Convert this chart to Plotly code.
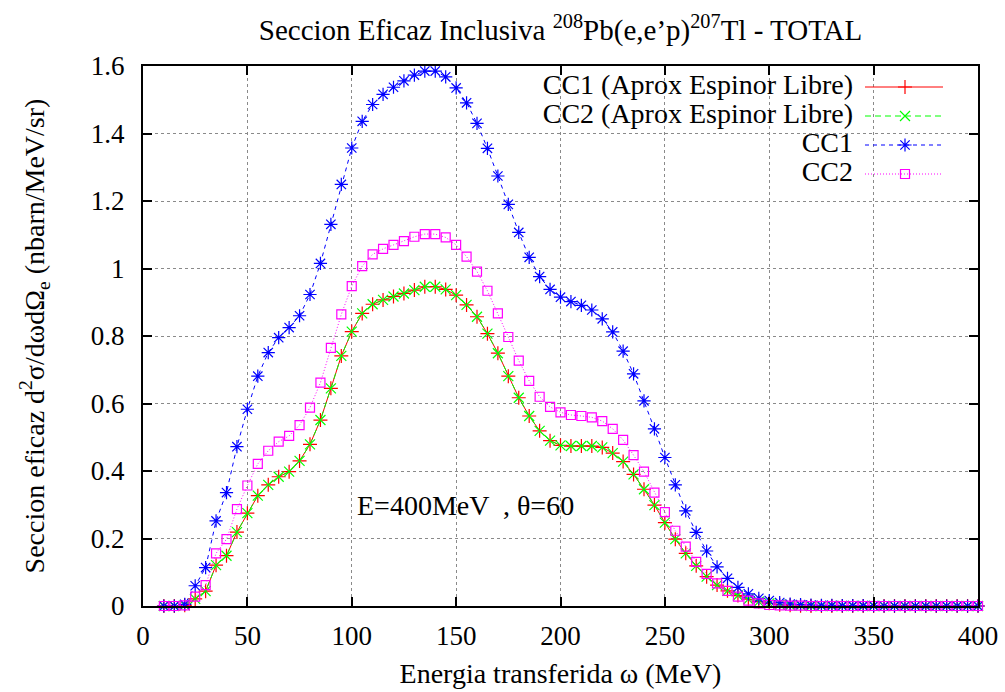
import plotly.graph_objects as go

# Energy transfer omega (MeV)
omega = [10, 15, 20, 25, 30, 35, 40, 45, 50, 55,
         60, 65, 70, 75, 80, 85, 90, 95, 100, 105,
         110, 115, 120, 125, 130, 135, 140, 145, 150, 155,
         160, 165, 170, 175, 180, 185, 190, 195, 200, 205,
         210, 215, 220, 225, 230, 235, 240, 245, 250, 255,
         260, 265, 270, 275, 280, 285, 290, 295, 300, 305,
         310, 315, 320, 325, 330, 335, 340, 345, 350, 355,
         360, 365, 370, 375, 380, 385, 390, 395, 400]

# Cross sections (nbarn/MeV/sr)
cc1_libre = [0.000, 0.000, 0.002, 0.021, 0.044, 0.121, 0.149, 0.219, 0.275, 0.327,
             0.359, 0.383, 0.398, 0.430, 0.479, 0.551, 0.645, 0.741, 0.813, 0.867,
             0.894, 0.907, 0.917, 0.926, 0.936, 0.946, 0.946, 0.938, 0.921, 0.892,
             0.857, 0.807, 0.749, 0.681, 0.617, 0.563, 0.519, 0.490, 0.476, 0.474,
             0.474, 0.474, 0.470, 0.453, 0.428, 0.390, 0.346, 0.299, 0.247, 0.198,
             0.156, 0.119, 0.087, 0.062, 0.045, 0.031, 0.020, 0.013, 0.008, 0.004,
             0.002, 0.001, 0.000, 0.000, 0.000, 0.000, 0.000, 0.000, 0.000, 0.000,
             0.000, 0.000, 0.000, 0.000, 0.000, 0.000, 0.000, 0.000, 0.000]

cc2_libre = [0.000, 0.000, 0.002, 0.021, 0.044, 0.121, 0.149, 0.219, 0.275, 0.327,
             0.359, 0.383, 0.398, 0.430, 0.479, 0.551, 0.645, 0.741, 0.813, 0.867,
             0.894, 0.907, 0.917, 0.926, 0.936, 0.946, 0.946, 0.938, 0.921, 0.892,
             0.857, 0.807, 0.749, 0.681, 0.617, 0.563, 0.519, 0.490, 0.476, 0.474,
             0.474, 0.474, 0.470, 0.453, 0.428, 0.390, 0.346, 0.299, 0.247, 0.198,
             0.156, 0.119, 0.087, 0.062, 0.045, 0.031, 0.020, 0.013, 0.008, 0.004,
             0.002, 0.001, 0.000, 0.000, 0.000, 0.000, 0.000, 0.000, 0.000, 0.000,
             0.000, 0.000, 0.000, 0.000, 0.000, 0.000, 0.000, 0.000, 0.000]

cc1 = [0.000, 0.000, 0.005, 0.060, 0.114, 0.252, 0.336, 0.472, 0.583, 0.681,
       0.751, 0.795, 0.825, 0.860, 0.923, 1.015, 1.131, 1.249, 1.357, 1.436,
       1.486, 1.516, 1.537, 1.556, 1.573, 1.585, 1.585, 1.568, 1.535, 1.491,
       1.430, 1.356, 1.274, 1.190, 1.107, 1.033, 0.976, 0.938, 0.915, 0.902,
       0.891, 0.877, 0.851, 0.812, 0.755, 0.688, 0.608, 0.525, 0.440, 0.359,
       0.282, 0.218, 0.163, 0.116, 0.082, 0.055, 0.036, 0.023, 0.016, 0.010,
       0.006, 0.004, 0.003, 0.002, 0.002, 0.001, 0.001, 0.001, 0.001, 0.000,
       0.000, 0.000, 0.000, 0.000, 0.000, 0.000, 0.000, 0.000, 0.000]

cc2 = [0.000, 0.000, 0.002, 0.028, 0.062, 0.156, 0.198, 0.287, 0.357, 0.421,
       0.460, 0.487, 0.504, 0.536, 0.588, 0.662, 0.765, 0.864, 0.948, 1.007,
       1.042, 1.058, 1.070, 1.081, 1.094, 1.102, 1.102, 1.092, 1.070, 1.035,
       0.991, 0.934, 0.867, 0.797, 0.727, 0.667, 0.620, 0.590, 0.574, 0.566,
       0.563, 0.559, 0.548, 0.525, 0.492, 0.447, 0.398, 0.336, 0.278, 0.223,
       0.176, 0.131, 0.095, 0.067, 0.045, 0.028, 0.016, 0.008, 0.003, 0.002,
       0.001, 0.001, 0.000, 0.000, 0.000, 0.000, 0.000, 0.000, 0.000, 0.000,
       0.000, 0.000, 0.000, 0.000, 0.000, 0.000, 0.000, 0.000, 0.000]

series_names = ["CC1 (Aprox Espinor Libre)", "CC2 (Aprox Espinor Libre)", "CC1", "CC2"]
x_ticks = [0, 50, 100, 150, 200, 250, 300, 350, 400]
y_ticks = [0, 0.2, 0.4, 0.6, 0.8, 1.0, 1.2, 1.4, 1.6]
y_tick_text = ["0", "0.2", "0.4", "0.6", "0.8", "1", "1.2", "1.4", "1.6"]

SERIF = "Liberation Serif"
TXT = 28

styles = [
    dict(color="#ff0000", dash="solid", symbol="cross-thin-open", size=10),
    dict(color="#00ff00", dash="6px,4px", symbol="x-thin-open", size=10),
    dict(color="#0000ff", dash="4px,4px", symbol="asterisk-open", size=11),
    dict(color="#ff00ff", dash="1px,2px", symbol="square-open", size=9),
]
data = [cc1_libre, cc2_libre, cc1, cc2]

# figure geometry (pixels)
W, H = 1005, 692
L, R, T, B = 143, 27, 66, 86
PW, PH = W - L - R, H - T - B


def marker_of(st):
    return dict(symbol=st["symbol"], size=st["size"], color=st["color"],
                line=dict(color=st["color"], width=1.2))


fig = go.Figure()
for name, ys, st in zip(series_names, data, styles):
    fig.add_trace(go.Scatter(
        x=omega, y=ys, name=name, mode="lines+markers",
        line=dict(color=st["color"], width=1, dash=st["dash"]),
        marker=marker_of(st), showlegend=False, cliponaxis=False,
    ))


# key: text right-aligned, sample line + point to its right (plot-fraction axes)
def px_x(p):
    return (p - L) / PW


def px_y(p):
    return (T + PH - p) / PH


key_rows = [87, 116, 145, 174]
key_text_right = 853
key_line = (865, 943)
key_mark = 905

fig.add_trace(go.Scatter(
    x=[px_x(key_text_right)] * len(key_rows), y=[px_y(r) for r in key_rows],
    xaxis="x2", yaxis="y2", mode="text", text=series_names,
    textposition="middle left", hoverinfo="skip", showlegend=False,
    textfont=dict(family=SERIF, size=TXT, color="black")))

for st, row in zip(styles, key_rows):
    fig.add_trace(go.Scatter(
        x=[px_x(key_line[0]), px_x(key_line[1])], y=[px_y(row), px_y(row)],
        xaxis="x2", yaxis="y2", mode="lines", hoverinfo="skip", showlegend=False,
        line=dict(color=st["color"], width=1, dash=st["dash"])))
    fig.add_trace(go.Scatter(
        x=[px_x(key_mark)], y=[px_y(row)], xaxis="x2", yaxis="y2", mode="markers",
        hoverinfo="skip", showlegend=False, marker=marker_of(st)))

# blank the grid behind the key
fig.add_shape(type="rect", xref="paper", yref="paper", layer="between",
              x0=px_x(421), x1=px_x(962), y0=px_y(187), y1=1.0,
              fillcolor="white", line=dict(width=0))

axis_common = dict(
    showline=True, linecolor="black", linewidth=2, mirror="ticks",
    ticks="inside", ticklen=9, tickwidth=1.5, tickcolor="black",
    showgrid=True, gridcolor="#8a8a8a", griddash="dot", gridwidth=1,
    zeroline=False, automargin=False,
    tickfont=dict(family=SERIF, size=27, color="black"),
)

fig.update_layout(
    width=W, height=H, margin=dict(l=L, r=R, t=T, b=B, autoexpand=False),
    paper_bgcolor="white", plot_bgcolor="white",
    font=dict(family=SERIF, size=TXT, color="black"),
    title=dict(text="Seccion Eficaz Inclusiva <sup>208</sup>Pb(e,e’p)<sup>207</sup>Tl - TOTAL",
               x=0.5, xref="paper", xanchor="center",
               y=1 - 30 / H, yref="container", yanchor="middle",
               font=dict(family=SERIF, size=29, color="black")),
    xaxis=dict(range=[0, 400], tickvals=x_ticks, ticklabelstandoff=5,
               title=dict(text="Energia transferida ω (MeV)", standoff=13,
                          font=dict(family=SERIF, size=TXT, color="black")),
               **axis_common),
    yaxis=dict(range=[0, 1.6], tickvals=y_ticks, ticktext=y_tick_text,
               ticklabelstandoff=11,
               title=dict(text="Seccion eficaz d<sup>2</sup>σ/dωdΩ<sub>e</sub> (nbarn/MeV/sr)",
                          standoff=38, font=dict(family=SERIF, size=TXT, color="black")),
               **axis_common),
    xaxis2=dict(overlaying="x", range=[0, 1], visible=False, fixedrange=True),
    yaxis2=dict(overlaying="y", range=[0, 1], visible=False, fixedrange=True),
    showlegend=False,
)

fig.add_annotation(xref="paper", yref="paper", x=px_x(576), y=px_y(505),
                   text="E=400MeV  , θ=60",
                   showarrow=False, xanchor="right", yanchor="middle",
                   font=dict(family=SERIF, size=TXT, color="black"))

fig.write_html("out.html")
